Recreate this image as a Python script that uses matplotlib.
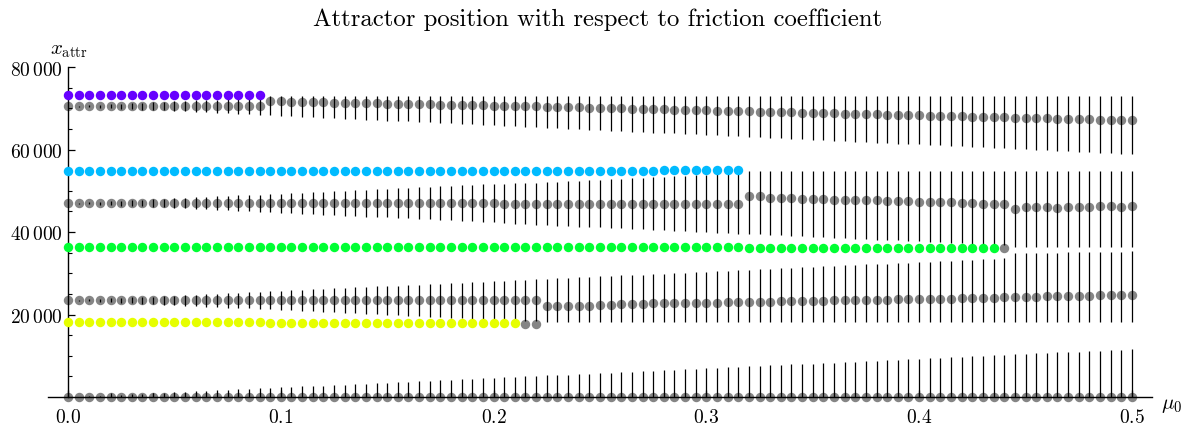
import matplotlib
matplotlib.use("Agg")
import matplotlib.pyplot as plt
from matplotlib.ticker import MultipleLocator

plt.rcParams['mathtext.fontset'] = 'cm'
plt.rcParams['axes.unicode_minus'] = False

# friction coefficient samples
mu = [0.000, 0.005, 0.010, 0.015, 0.020, 0.025, 0.030, 0.035, 0.040, 0.045,
      0.050, 0.055, 0.060, 0.065, 0.070, 0.075, 0.080, 0.085, 0.090, 0.095,
      0.100, 0.105, 0.110, 0.115, 0.120, 0.125, 0.130, 0.135, 0.140, 0.145,
      0.150, 0.155, 0.160, 0.165, 0.170, 0.175, 0.180, 0.185, 0.190, 0.195,
      0.200, 0.205, 0.210, 0.215, 0.220, 0.225, 0.230, 0.235, 0.240, 0.245,
      0.250, 0.255, 0.260, 0.265, 0.270, 0.275, 0.280, 0.285, 0.290, 0.295,
      0.300, 0.305, 0.310, 0.315, 0.320, 0.325, 0.330, 0.335, 0.340, 0.345,
      0.350, 0.355, 0.360, 0.365, 0.370, 0.375, 0.380, 0.385, 0.390, 0.395,
      0.400, 0.405, 0.410, 0.415, 0.420, 0.425, 0.430, 0.435, 0.440, 0.445,
      0.450, 0.455, 0.460, 0.465, 0.470, 0.475, 0.480, 0.485, 0.490, 0.495,
      0.500]

# ---- stable attractors (gray) : centre, lower and upper end of the bar ----
g1_center = [0] * 101
g1_lo = [0] * 101
g1_hi = [0, 120, 230, 350, 460, 580, 700, 810, 930, 1040,
         1160, 1280, 1390, 1510, 1620, 1740, 1860, 1970, 2090, 2200,
         2320, 2440, 2550, 2670, 2780, 2900, 3020, 3130, 3250, 3360,
         3480, 3600, 3710, 3830, 3940, 4060, 4180, 4290, 4410, 4520,
         4640, 4760, 4870, 4990, 5100, 5220, 5340, 5450, 5570, 5680,
         5800, 5920, 6030, 6150, 6260, 6380, 6500, 6610, 6730, 6840,
         6960, 7080, 7190, 7310, 7420, 7540, 7660, 7770, 7890, 8000,
         8120, 8240, 8350, 8470, 8580, 8700, 8820, 8930, 9050, 9160,
         9280, 9400, 9510, 9630, 9740, 9860, 9980, 10090, 10210, 10320,
         10440, 10560, 10670, 10790, 10900, 11020, 11140, 11250, 11370, 11480,
         11600]

g2_center = [23430, 23430, 23430, 23430, 23430, 23430, 23430, 23430, 23430, 23430,
             23430, 23430, 23430, 23430, 23430, 23430, 23430, 23430, 23430, 23430,
             23430, 23430, 23430, 23430, 23430, 23430, 23430, 23430, 23430, 23430,
             23430, 23430, 23430, 23430, 23430, 23430, 23430, 23430, 23430, 23430,
             23430, 23430, 23430, 23430, 23430, 21980, 21980, 21980, 22140, 22140,
             22380, 22380, 22540, 22540, 22620, 22700, 22700, 22790, 22790, 22870,
             22870, 22870, 22950, 23030, 23030, 23110, 23110, 23190, 23190, 23270,
             23270, 23350, 23430, 23430, 23590, 23510, 23510, 23590, 23670, 23670,
             23750, 23750, 23840, 23840, 23920, 24000, 24000, 24080, 24160, 24160,
             24240, 24320, 24400, 24400, 24480, 24480, 24560, 24640, 24720, 24720,
             24800]
g2_lo = [23430, 23310, 23200, 23080, 22970, 22850, 22730, 22620, 22500, 22390,
         22270, 22150, 22040, 21920, 21810, 21690, 21570, 21460, 21340, 21230,
         21110, 20990, 20880, 20760, 20650, 20530, 20410, 20300, 20180, 20070,
         19950, 19830, 19720, 19600, 19490, 19370, 19250, 19140, 19020, 18910,
         18790, 18670, 18560, 18440, 18330, 18100, 18100, 18100, 18100, 18100,
         18100, 18100, 18100, 18100, 18100, 18100, 18100, 18100, 18100, 18100,
         18100, 18100, 18100, 18100, 18100, 18100, 18100, 18100, 18100, 18100,
         18100, 18100, 18100, 18100, 18100, 18100, 18100, 18100, 18100, 18100,
         18100, 18100, 18100, 18100, 18100, 18100, 18100, 18100, 18100, 18100,
         18100, 18100, 18100, 18100, 18100, 18100, 18100, 18100, 18100, 18100,
         18100]
g2_hi = [23430, 23550, 23660, 23780, 23890, 24010, 24130, 24240, 24360, 24470,
         24590, 24710, 24820, 24940, 25050, 25170, 25290, 25400, 25520, 25630,
         25750, 25870, 25980, 26100, 26210, 26330, 26450, 26560, 26680, 26790,
         26910, 27030, 27140, 27260, 27370, 27490, 27610, 27720, 27840, 27950,
         28070, 28190, 28300, 28420, 28530, 28650, 28770, 28880, 29000, 29110,
         29230, 29350, 29460, 29580, 29690, 29810, 29930, 30040, 30160, 30270,
         30390, 30510, 30620, 30740, 30850, 30970, 31090, 31200, 31320, 31430,
         31550, 31670, 31780, 31900, 32010, 32130, 32250, 32360, 32480, 32590,
         32710, 32830, 32940, 33060, 33170, 33290, 33410, 33520, 33640, 34830,
         34870, 34920, 34960, 35000, 35050, 35090, 35130, 35180, 35220, 35270,
         35310]

g3_center = [47000, 47000, 47000, 47000, 47000, 47000, 47000, 47000, 47000, 47000,
             47000, 47000, 47000, 47000, 47000, 47000, 47000, 47000, 47000, 47000,
             47000, 47000, 47000, 47000, 47000, 47000, 47000, 47000, 47000, 47000,
             47000, 47000, 47000, 47000, 47000, 47000, 47000, 47000, 47000, 47000,
             47000, 46900, 46900, 46900, 46900, 46900, 46900, 46900, 46900, 46900,
             46900, 46900, 46900, 46900, 46900, 46900, 46900, 46900, 46900, 46900,
             46900, 46900, 46900, 46900, 48640, 48640, 48240, 48240, 48160, 48080,
             48080, 48000, 47870, 47870, 47750, 47750, 47750, 47590, 47590, 47430,
             47350, 47350, 47270, 47190, 47110, 47030, 46870, 46780, 46780, 45570,
             45980, 45980, 45980, 45900, 45980, 45980, 46060, 46220, 46300, 46140,
             46300]
g3_lo = [47000, 46880, 46770, 46650, 46540, 46420, 46300, 46190, 46070, 45960,
         45840, 45720, 45610, 45490, 45380, 45260, 45140, 45030, 44910, 44800,
         44680, 44560, 44450, 44330, 44220, 44100, 43980, 43870, 43750, 43640,
         43520, 43400, 43290, 43170, 43060, 42940, 42820, 42710, 42590, 42480,
         42360, 42140, 42030, 41910, 41800, 41680, 41560, 41450, 41330, 41220,
         41100, 40980, 40870, 40750, 40640, 40520, 40400, 40290, 40170, 40060,
         39940, 39820, 39710, 39590, 39580, 39460, 39340, 39230, 39110, 39000,
         38880, 38760, 38650, 38530, 38420, 38300, 38180, 38070, 37950, 37840,
         37720, 37600, 37490, 37370, 37260, 37140, 37020, 36910, 36790, 36300,
         36300, 36300, 36300, 36300, 36300, 36300, 36300, 36300, 36300, 36300,
         36300]
g3_hi = [47000, 47120, 47230, 47350, 47460, 47580, 47700, 47810, 47930, 48040,
         48160, 48280, 48390, 48510, 48620, 48740, 48860, 48970, 49090, 49200,
         49320, 49440, 49550, 49670, 49780, 49900, 50020, 50130, 50250, 50360,
         50480, 50600, 50710, 50830, 50940, 51060, 51180, 51290, 51410, 51520,
         51640, 51660, 51770, 51890, 52000, 52120, 52240, 52350, 52470, 52580,
         52700, 52820, 52930, 53050, 53160, 53280, 53400, 53510, 53630, 53740,
         53860, 53980, 54090, 54210, 54700, 54700, 54700, 54700, 54700, 54700,
         54700, 54700, 54700, 54700, 54700, 54700, 54700, 54700, 54700, 54700,
         54700, 54700, 54700, 54700, 54700, 54700, 54700, 54700, 54700, 54700,
         54700, 54700, 54700, 54700, 54700, 54700, 54700, 54700, 54700, 54700,
         54700]

g4_center = [70500, 70500, 70500, 70500, 70500, 70500, 70500, 70500, 70500, 70500,
             70500, 70500, 70500, 70500, 70500, 70500, 70500, 70500, 70500, 71700,
             71650, 71600, 71550, 71500, 71450, 71380, 71330, 71280, 71230, 71180,
             71130, 71080, 71030, 70980, 70930, 70880, 70830, 70780, 70730, 70680,
             70630, 70580, 70530, 70480, 70430, 70380, 70330, 70270, 70210, 70150,
             70090, 70030, 69970, 69910, 69850, 69790, 69730, 69670, 69610, 69550,
             69490, 69430, 69370, 69310, 69250, 69190, 69130, 69070, 69010, 68950,
             68890, 68830, 68770, 68710, 68650, 68590, 68530, 68470, 68410, 68350,
             68290, 68230, 68170, 68110, 68050, 67990, 67930, 67870, 67810, 67750,
             67690, 67630, 67570, 67510, 67450, 67390, 67330, 67270, 67210, 67150,
             67090]
g4_lo = [70500, 70380, 70270, 70150, 70040, 69920, 69800, 69690, 69570, 69460,
         69340, 69220, 69110, 68990, 68880, 68760, 68640, 68530, 68410, 68300,
         68180, 68060, 67950, 67830, 67720, 67600, 67480, 67370, 67250, 67140,
         67020, 66900, 66790, 66670, 66560, 66440, 66320, 66210, 66090, 65980,
         65860, 65740, 65630, 65510, 65400, 65280, 65160, 65050, 64930, 64820,
         64700, 64580, 64470, 64350, 64240, 64120, 64000, 63890, 63770, 63660,
         63540, 63420, 63310, 63190, 63080, 62960, 62840, 62730, 62610, 62500,
         62380, 62260, 62150, 62030, 61920, 61800, 61680, 61570, 61450, 61340,
         61220, 61100, 60990, 60870, 60760, 60640, 60520, 60410, 60290, 60180,
         60060, 59940, 59830, 59710, 59600, 59480, 59360, 59250, 59130, 59020,
         58900]
g4_hi = [70500, 70620, 70730, 70850, 70960, 71080, 71200, 71310, 71430, 71540,
         71660, 71780, 71890, 72010, 72120, 72240, 72360, 72470, 72590, 72900,
         72900, 72900, 72900, 72900, 72900, 72900, 72900, 72900, 72900, 72900,
         72900, 72900, 72900, 72900, 72900, 72900, 72900, 72900, 72900, 72900,
         72900, 72900, 72900, 72900, 72900, 72900, 72900, 72900, 72900, 72900,
         72900, 72900, 72900, 72900, 72900, 72900, 72900, 72900, 72900, 72900,
         72900, 72900, 72900, 72900, 72900, 72900, 72900, 72900, 72900, 72900,
         72900, 72900, 72900, 72900, 72900, 72900, 72900, 72900, 72900, 72900,
         72900, 72900, 72900, 72900, 72900, 72900, 72900, 72900, 72900, 72900,
         72900, 72900, 72900, 72900, 72900, 72900, 72900, 72900, 72900, 72900,
         72900]

# isolated gray points without bars
extra_mu = [0.215, 0.220, 0.440]
extra_x = [17700, 17700, 36100]

# ---- unstable attractors (coloured) ----
purple_mu = mu[:19]
purple_x = [73300, 73300, 73300, 73300, 73300, 73300, 73300, 73300, 73300, 73300,
            73300, 73300, 73300, 73300, 73300, 73300, 73300, 73300, 73300]

blue_mu = mu[:64]
blue_x = [54700, 54700, 54700, 54700, 54700, 54700, 54700, 54700, 54700, 54700,
          54700, 54700, 54700, 54700, 54700, 54700, 54700, 54700, 54700, 54700,
          54700, 54700, 54700, 54700, 54700, 54700, 54700, 54700, 54700, 54700,
          54700, 54700, 54700, 54700, 54700, 54700, 54700, 54700, 54700, 54800,
          54800, 54900, 54900, 54900, 54900, 54900, 54900, 54900, 54900, 54900,
          54900, 54900, 54900, 54900, 54900, 54900, 55000, 55000, 55000, 55000,
          55000, 55000, 55000, 55000]

green_mu = mu[:88]
green_x = [36440, 36440, 36440, 36440, 36440, 36440, 36440, 36440, 36440, 36440,
           36440, 36440, 36440, 36440, 36440, 36440, 36440, 36440, 36440, 36440,
           36440, 36440, 36440, 36440, 36440, 36360, 36360, 36360, 36360, 36360,
           36360, 36360, 36360, 36360, 36360, 36360, 36360, 36360, 36360, 36360,
           36360, 36360, 36360, 36360, 36360, 36360, 36360, 36360, 36360, 36360,
           36280, 36280, 36280, 36280, 36280, 36280, 36280, 36280, 36280, 36280,
           36280, 36280, 36280, 36280, 36200, 36200, 36200, 36200, 36200, 36200,
           36200, 36200, 36200, 36200, 36200, 36100, 36100, 36100, 36100, 36100,
           36100, 36100, 36100, 36100, 36100, 36100, 36100, 36100]

yellow_mu = mu[:43]
yellow_x = [18100, 18100, 18100, 18100, 18100, 18100, 18100, 18100, 18100, 18100,
            18100, 18100, 18100, 18100, 18100, 18100, 18100, 18100, 18100, 17950,
            17950, 17950, 17950, 17950, 17950, 17950, 17950, 17950, 17950, 17950,
            17950, 17860, 17860, 17860, 17860, 17860, 17860, 17860, 17860, 17860,
            17860, 17860, 17860]

y_ticks = [20000, 40000, 60000, 80000]
y_tick_labels = [r'$20\,000$', r'$40\,000$', r'$60\,000$', r'$80\,000$']
x_ticks = [0.0, 0.1, 0.2, 0.3, 0.4, 0.5]
x_tick_labels = [r'$0.0$', r'$0.1$', r'$0.2$', r'$0.3$', r'$0.4$', r'$0.5$']

W, H = 1187, 427
fig = plt.figure(figsize=(W / 100, H / 100), dpi=100)
ax = fig.add_axes([48 / W, (H - 398) / H, (1151.7 - 48) / W, 330 / H])
ax.set_xlim(-0.0094, 0.5093)
ax.set_ylim(0, 80000)

MS = 6.8
GRAY_ALPHA = 0.48
groups = [(g1_center, g1_lo, g1_hi), (g2_center, g2_lo, g2_hi),
          (g3_center, g3_lo, g3_hi), (g4_center, g4_lo, g4_hi)]
for c, lo, hi in groups:
    ax.vlines(mu, lo, hi, colors='black', linewidth=0.9, zorder=1)
    ax.plot(mu, c, 'o', color='black', alpha=GRAY_ALPHA, ms=MS, mew=0,
            zorder=2, clip_on=False)
ax.plot(extra_mu, extra_x, 'o', color='black', alpha=GRAY_ALPHA, ms=MS, mew=0,
        zorder=2, clip_on=False)

ax.plot(purple_mu, purple_x, 'o', color='#6600FF', ms=MS, mew=0, zorder=3, clip_on=False)
ax.plot(blue_mu, blue_x, 'o', color='#00BBFF', ms=MS, mew=0, zorder=3, clip_on=False)
ax.plot(green_mu, green_x, 'o', color='#00FF33', ms=MS, mew=0, zorder=3, clip_on=False)
ax.plot(yellow_mu, yellow_x, 'o', color='#E6FF00', ms=MS, mew=0, zorder=3, clip_on=False)

# axes styling (Mathematica-like)
for s in ('top', 'right'):
    ax.spines[s].set_visible(False)
ax.spines['left'].set_position(('data', 0))
ax.spines['left'].set_bounds(0, 80000)
ax.spines['left'].set_linewidth(1.0)
ax.spines['bottom'].set_linewidth(1.0)
ax.patch.set_visible(False)

ax.set_yticks(y_ticks)
ax.set_yticklabels(y_tick_labels)
ax.yaxis.set_minor_locator(MultipleLocator(5000))
ax.set_xticks(x_ticks)
ax.set_xticklabels(x_tick_labels)
ax.xaxis.set_minor_locator(MultipleLocator(0.02))
ax.tick_params(axis='both', which='major', direction='in', length=5, width=0.9,
               labelsize=14)
ax.tick_params(axis='both', which='minor', direction='in', length=3, width=0.8)
ax.tick_params(axis='x', which='major', pad=7)
ax.tick_params(axis='y', which='major', pad=4)

fig.text(598 / W, 1 - 20 / H, 'Attractor position with respect to friction coefficient',
         fontfamily='cmr10', fontsize=17.8, ha='center', va='center')
fig.text(69 / W, 1 - 50 / H, r'$x_{\mathrm{attr}}$', fontsize=15, ha='center', va='center')
fig.text(1172 / W, 1 - 405 / H, r'$\mu_0$', fontsize=15, ha='center', va='center')

fig.savefig('out.png', dpi=100)
